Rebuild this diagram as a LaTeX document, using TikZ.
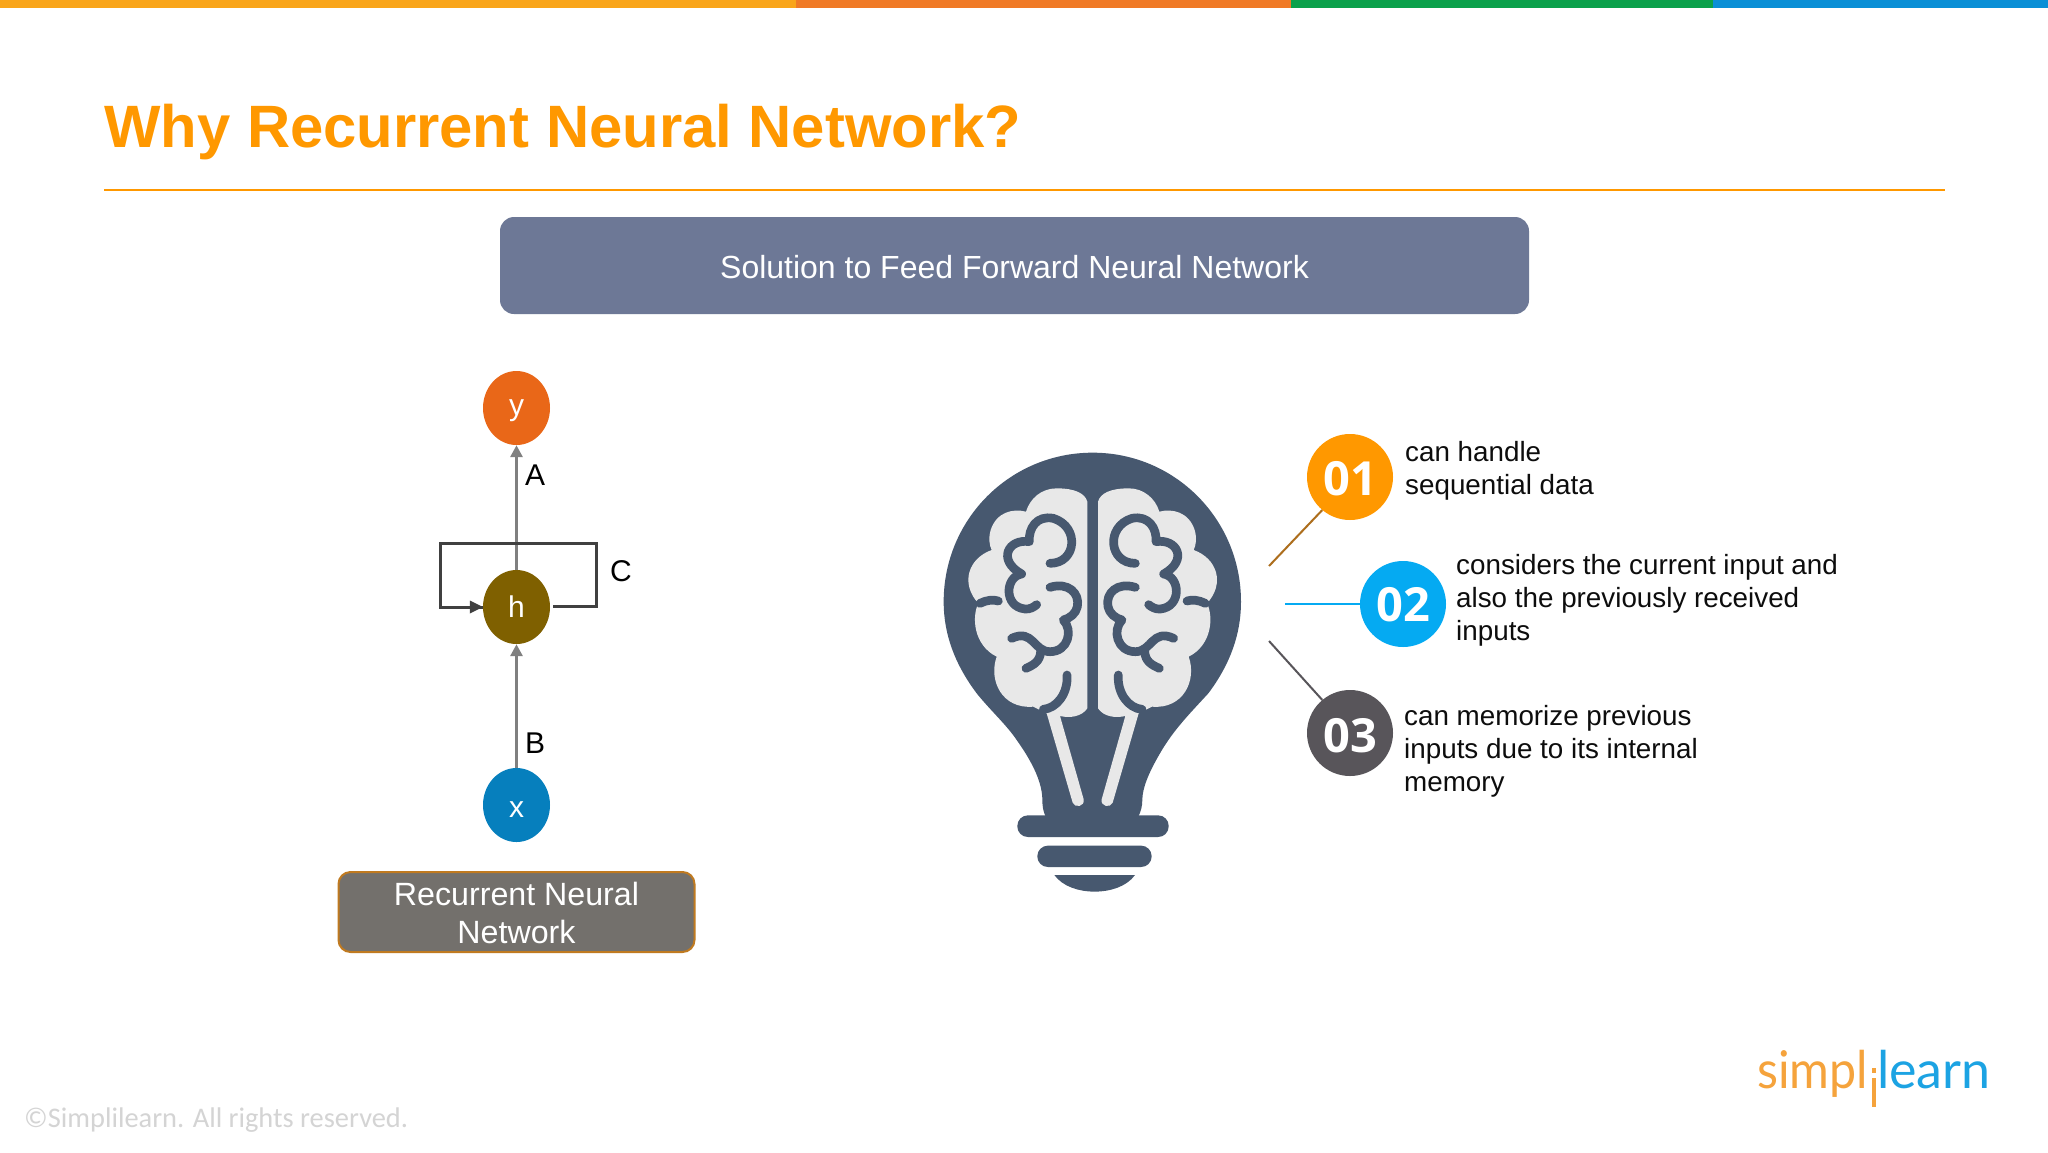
\documentclass[tikz,border=0pt]{standalone}
\usepackage{fontspec}
\usepackage{graphicx}
\setmainfont{Liberation Sans}
\newfontfamily\numfont{Open Sans}
\newfontfamily\footfont{Carlito}
\newfontfamily\logofont{Lato}
\usetikzlibrary{shapes.geometric,arrows.meta}
\definecolor{barA}{HTML}{F9A51A}
\definecolor{barB}{HTML}{F07A26}
\definecolor{barC}{HTML}{0BA14B}
\definecolor{barD}{HTML}{0A8FD6}
\definecolor{titleC}{HTML}{FF9800}
\definecolor{headC}{HTML}{6D7896}
\definecolor{rnnC}{HTML}{73706C}
\definecolor{rnnE}{HTML}{C07A20}
\definecolor{yC}{HTML}{E96718}
\definecolor{hC}{HTML}{7F6000}
\definecolor{xC}{HTML}{067FBD}
\definecolor{bulbC}{HTML}{47586F}
\definecolor{brainC}{HTML}{E8E8E8}
\definecolor{oneC}{HTML}{FF9800}
\definecolor{twoC}{HTML}{05AAF2}
\definecolor{threeC}{HTML}{58555A}
\definecolor{logoO}{HTML}{F5A33C}
\definecolor{logoB}{HTML}{1CA3E3}
\newcommand{\lowered}[2]{\raisebox{-#1pt}[0.5em][0.5em]{#2}}
\tikzset{
  disc/.style={ellipse,inner sep=0pt,minimum width=67pt,minimum height=74pt,text=white,
    font=\fontsize{30}{30}\selectfont},
  upline/.style={draw=black!50,line width=3pt,-{Triangle[length=12pt,width=12pt]}},
  loopline/.style={draw=black!75,line width=3pt},
  lab/.style={font=\fontsize{30}{30}\selectfont,text=black,inner sep=0pt},
  num/.style={circle,inner sep=0pt,minimum size=86pt,text=white,font=\numfont\bfseries\fontsize{47}{47}\selectfont},
  point/.style={anchor=west,align=left,inner sep=0pt,text=black!95,font=\fontsize{27.8}{33}\selectfont},
  gyrus/.style={draw=bulbC,line width=8.7pt,line cap=round,line join=round},
  bar/.style={fill=bulbC,rounded corners=10.5pt}
}
\newcommand{\halfbrain}{%
  \fill[brainC] (562,215) .. controls (555,190) and (525,175) .. (470,175)
    .. controls (425,175) and (390,205) .. (378,245)
    .. controls (340,235) and (290,245) .. (272,300)
    .. controls (265,325) and (268,345) .. (275,360)
    .. controls (205,385) and (180,460) .. (235,520)
    .. controls (215,560) and (220,645) .. (290,680)
    .. controls (265,750) and (305,838) .. (400,830)
    -- (440,850) -- (518,1118) .. controls (525,1135) and (555,1130) .. (551,1108)
    -- (480,858) .. controls (510,865) and (545,860) .. (562,835) -- cycle;
  \draw[gyrus] (450,400) .. controls (530,400) and (540,290) .. (460,265)
    .. controls (410,255) and (385,295) .. (388,335)
    .. controls (325,325) and (290,390) .. (365,432)
    .. controls (315,440) and (310,530) .. (375,537) .. controls (390,538) and (400,532) .. (410,524);
  \draw[gyrus] (450,472) .. controls (505,455) and (540,490) .. (532,530)
    .. controls (528,550) and (510,565) .. (490,570)
    .. controls (520,600) and (505,665) .. (450,665)
    .. controls (400,665) and (400,595) .. (335,625);
  \draw[gyrus] (422,665) .. controls (420,695) and (400,705) .. (378,715);
  \draw[gyrus] (501,735) .. controls (505,790) and (470,835) .. (430,838);
  \draw[gyrus] (240,520) .. controls (260,510) and (280,508) .. (295,513);
}
\begin{document}
\begin{tikzpicture}[x=1pt,y=-1pt]
\useasboundingbox (0,0) rectangle (2048,1152);
\fill[white] (0,0) rectangle (2048,1152);
% top bar
\fill[barA] (0,0) rectangle (796,8);
\fill[barB] (796,0) rectangle (1291,8);
\fill[barC] (1291,0) rectangle (1713,8);
\fill[barD] (1713,0) rectangle (2048,8);
% title
\node[anchor=west,inner sep=0pt,text=titleC,font=\bfseries\fontsize{59.8}{60}\selectfont] (title) at (104,132) {Why Recurrent Neural Network?};
\coordinate (ruleL) at (104,190);
\coordinate (ruleR) at (1945,190);
\draw[titleC,line width=1.5pt] (ruleL) -- (ruleR);
% header
\node[fill=headC,rounded corners=14pt,minimum width=1029pt,minimum height=97pt,inner sep=0pt] (head) at (1014.5,265.5) {};
\node[text=white,inner sep=0pt,font=\fontsize{32}{32}\selectfont] (headtext) at (1014.5,267) {Solution to Feed Forward Neural Network};
% RNN
\node[disc] (y) at (516.5,408) {};
\node[disc] (h) at (516.5,607) {};
\node[disc] (x) at (516.5,805) {};
\coordinate (lr) at (596,543);
\coordinate (ll) at (440,543);
\coordinate (hgap) at (553,606);
\draw[upline] (h) -- (y);
\draw[upline] (x) -- (h);
\draw[loopline] (hgap) -| (lr) -- (ll) |- (h.west);
\fill[black!75] (h.west) -- ++(-13,-6.5) -- ++(0,13) -- cycle;
\node[disc,fill=yC] at (y) {\lowered{7}{y}};
\node[disc,fill=hC] at (h) {\lowered{10}{h}};
\node[disc,fill=xC] at (x) {\lowered{12}{x}};
\node[lab] (la) at (535,475) {A};
\node[lab] (lb) at (535,743) {B};
\node[lab] (lc) at (621,571) {C};
\node[fill=rnnC,draw=rnnE,line width=2pt,rounded corners=12pt,minimum width=356pt,minimum height=80pt,inner sep=0pt] (rnn) at (516.5,912) {};
\node[text=white,inner sep=0pt,align=center,font=\fontsize{32.2}{38}\selectfont] (rnntext) at (516.5,913) {Recurrent Neural\\Network};
% bulb
\begin{scope}[shift={(900,430)},x=0.33333pt,y=-0.33333pt]
  \fill[bulbC] (578,68) .. controls (825,68) and (1023,268) .. (1023,515)
    .. controls (1023,620) and (985,710) .. (925,790)
    .. controls (870,850) and (820,900) .. (780,970)
    .. controls (745,1030) and (727,1075) .. (727,1110)
    .. controls (727,1130) and (722,1145) .. (715,1160)
    -- (437,1160) .. controls (430,1145) and (427,1130) .. (427,1110)
    .. controls (427,1060) and (400,1000) .. (350,930)
    .. controls (320,885) and (270,840) .. (230,790)
    .. controls (170,710) and (131,620) .. (131,515)
    .. controls (131,268) and (330,68) .. (578,68) -- cycle;
  \fill[bar] (352,1156) rectangle (806,1221);
  \fill[bar] (412,1247) rectangle (755,1311);
  \fill[bulbC] (463,1335) -- (705,1335) .. controls (680,1370) and (630,1385) .. (584,1385) .. controls (538,1385) and (488,1370) .. (463,1335) -- cycle;
  \halfbrain
  \begin{scope}[shift={(1156,0)},xscale=-1]
    \halfbrain
  \end{scope}
\end{scope}
% numbered points
\node[num,fill=oneC] (c1) at (1350,477) {\lowered{18}{01}};
\node[num,fill=twoC] (c2) at (1403,604) {\lowered{17.5}{02}};
\node[num,fill=threeC] (c3) at (1350,733) {\lowered{19}{03}};
\coordinate (e1) at (1269,566);
\coordinate (e2) at (1285,604);
\coordinate (e3) at (1269,641);
\draw[rnnE!90!black,line width=2pt] (e1) -- (c1.230);
\draw[twoC,line width=2pt] (e2) -- (c2.west);
\draw[threeC,line width=2pt] (e3) -- (c3.130);
\node[point] (t1) at (1405,470.5) {can handle\\sequential data};
\node[point] (t2) at (1456,600) {considers the current input and\\also the previously received\\inputs};
\node[point] (t3) at (1404,751) {can memorize previous\\inputs due to its internal\\memory};
% footer
\node[anchor=west,inner sep=0pt,text=black!17,font=\footfont\fontsize{28.4}{29}\selectfont] (foot) at (24,1120) {©Simplilearn. All rights reserved.};
% logo
\node[anchor=base west,inner sep=0pt,text=logoO,font=\logofont\fontsize{52}{52}\selectfont] (simpl) at (1757,1088) {\scalebox{0.93}[1]{simpl}};
\node[anchor=base west,inner sep=0pt,text=logoB,font=\logofont\fontsize{52}{52}\selectfont] (learn) at (1877,1088) {learn};
\fill[logoO] (1871.5,1068) rectangle (1876,1072.5);
\fill[logoO] (1871.5,1078) rectangle (1876,1107);
\end{tikzpicture}
\end{document}
